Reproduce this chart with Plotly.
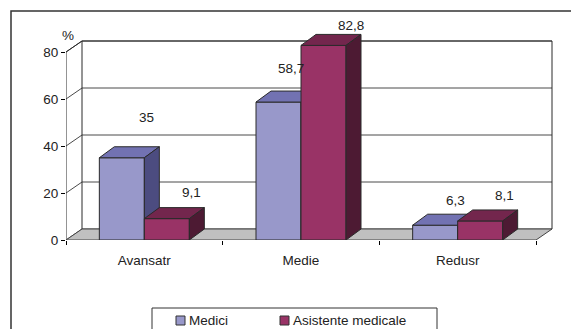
import plotly.graph_objects as go

# ---------------- data ----------------
categories = ["Avansatr", "Medie", "Redusr"]
series_names = ["Medici", "Asistente medicale"]
medici = [35, 58.7, 6.3]
asistente = [9.1, 82.8, 8.1]
y_ticks = [0, 20, 40, 60, 80]
y_unit = "%"

# ---------------- style ----------------
W, H = 571, 329
L, R, T, B = 66, 5, 15, 89
PXX = 470 / 3.0        # px per category unit
PXY = 2.35             # px per % unit
xr = (W - L - R) / PXX
yr = (H - T - B) / PXY

bw = 45 / PXX
bdx, bdy = 15 / PXX, 11 / PXY
wdx, wdy = 16 / PXX, 11 / PXY

FONT = "Liberation Sans, Arial, sans-serif"
FS = 13.5
TXT = "#222222"
EDGE = "#2a2a2a"
GRID = "#4a4a4a"
colors = {
    "Medici": ("#9898CA", "#7272B2", "#4C4C80"),
    "Asistente medicale": ("#993366", "#73264D", "#4D1A33"),
}
label_dx = {"Medici": [24.5, 12, 20.5], "Asistente medicale": [24.5, 27, 24.5]}
label_dy = {"Medici": [40, 34, 25], "Asistente medicale": [26, 20, 25]}


def px_x(p):
    return (p - L) / (W - L - R)


def px_y(p):
    return (H - B - p) / (H - T - B)


fig = go.Figure()


def poly(xs, ys, fill, lc=EDGE, lw=1):
    fig.add_trace(go.Scatter(x=xs + [xs[0]], y=ys + [ys[0]], mode="lines",
                             fill="toself", fillcolor=fill,
                             line=dict(color=lc, width=lw),
                             hoverinfo="skip", showlegend=False))


def line(xs, ys, c=GRID, lw=1):
    fig.add_trace(go.Scatter(x=xs, y=ys, mode="lines", line=dict(color=c, width=lw),
                             hoverinfo="skip", showlegend=False))


n = len(categories)
top = y_ticks[-1]

# back wall gridlines and side-wall diagonals
gx, gy = [], []
for v in y_ticks:
    gx += [wdx, n + wdx, None, 0, wdx, None]
    gy += [v + wdy, v + wdy, None, v, v + wdy, None]
line(gx, gy, GRID, 1)
# wall edges
line([0, 0, None, wdx, wdx, None, n + wdx, n + wdx, None, 0, wdx, None, wdx, n + wdx],
     [0, top, None, wdy, top + wdy, None, wdy, top + wdy, None, top, top + wdy, None,
      top + wdy, top + wdy], EDGE, 1)

# floor
poly([0, wdx, n + wdx, n], [0, wdy, wdy, 0], "#C0C0C0", "#444444", 1)

# bars (front, top, side faces)
annotations = []
for i in range(n):
    c = i + 0.5
    for s, vals, x0 in ((series_names[0], medici, c - bw), (series_names[1], asistente, c)):
        v = vals[i]
        x1 = x0 + bw
        fc, tc, sc = colors[s]
        poly([x0, x0, x1, x1], [0, v, v, 0], fc)
        poly([x0, x0 + bdx, x1 + bdx, x1], [v, v + bdy, v + bdy, v], tc)
        poly([x1, x1, x1 + bdx, x1 + bdx], [0, v, v + bdy, bdy], sc)
        annotations.append(dict(x=(x0 + x1) / 2, y=v, xref="x", yref="y",
                                text=f"{v:g}".replace(".", ","), showarrow=False,
                                xshift=label_dx[s][i], yshift=label_dy[s][i],
                                xanchor="center", yanchor="middle",
                                font=dict(family=FONT, size=FS, color=TXT)))

# unit label
annotations.append(dict(x=px_x(68), y=px_y(35), xref="paper", yref="paper", text=y_unit,
                        showarrow=False, xanchor="center", yanchor="middle",
                        font=dict(family=FONT, size=FS, color=TXT)))

# manual legend
shapes = []
leg_items = [(series_names[0], 176), (series_names[1], 280)]
for name, sx in leg_items:
    shapes.append(dict(type="rect", xref="paper", yref="paper",
                       x0=px_x(sx), x1=px_x(sx + 9), y0=px_y(325), y1=px_y(316),
                       fillcolor=colors[name][0], line=dict(color="#333333", width=1)))
    annotations.append(dict(x=px_x(sx + 11), y=px_y(320.5), xref="paper", yref="paper",
                            text=name, showarrow=False, xanchor="left", yanchor="middle",
                            font=dict(family=FONT, size=FS, color=TXT)))
shapes.append(dict(type="rect", xref="paper", yref="paper",
                   x0=px_x(152), x1=px_x(437), y0=px_y(360), y1=px_y(308),
                   line=dict(color="#333333", width=1), fillcolor="rgba(0,0,0,0)"))
# outer chart border
shapes.append(dict(type="rect", xref="paper", yref="paper",
                   x0=px_x(11), x1=px_x(620), y0=px_y(400), y1=px_y(11),
                   line=dict(color="#333333", width=1.5), fillcolor="rgba(0,0,0,0)"))

fig.update_layout(
    width=W, height=H,
    margin=dict(l=L, r=R, t=T, b=B, autoexpand=False),
    paper_bgcolor="white", plot_bgcolor="white",
    showlegend=False,
    font=dict(family=FONT, size=FS, color=TXT),
    annotations=annotations, shapes=shapes,
    xaxis=dict(range=[0, xr], tickmode="array",
               tickvals=[i + 0.5 for i in range(n)], ticktext=categories,
               ticks="outside", ticklen=4, tickcolor="rgba(0,0,0,0)",
               ticklabelstandoff=4,
               showgrid=False, zeroline=False, showline=False, fixedrange=True,
               minor=dict(tickmode="array", tickvals=list(range(n + 1)), ticks="outside",
                          ticklen=4, tickcolor="#000000", showgrid=False),
               tickfont=dict(family=FONT, size=FS, color=TXT)),
    yaxis=dict(range=[0, yr], tickmode="array", tickvals=y_ticks,
               ticktext=[str(v) for v in y_ticks],
               ticks="outside", ticklen=4, tickcolor="#000000",
               showgrid=False, zeroline=False, showline=False, fixedrange=True,
               tickfont=dict(family=FONT, size=FS, color=TXT)),
)

fig.write_html("out.html")
